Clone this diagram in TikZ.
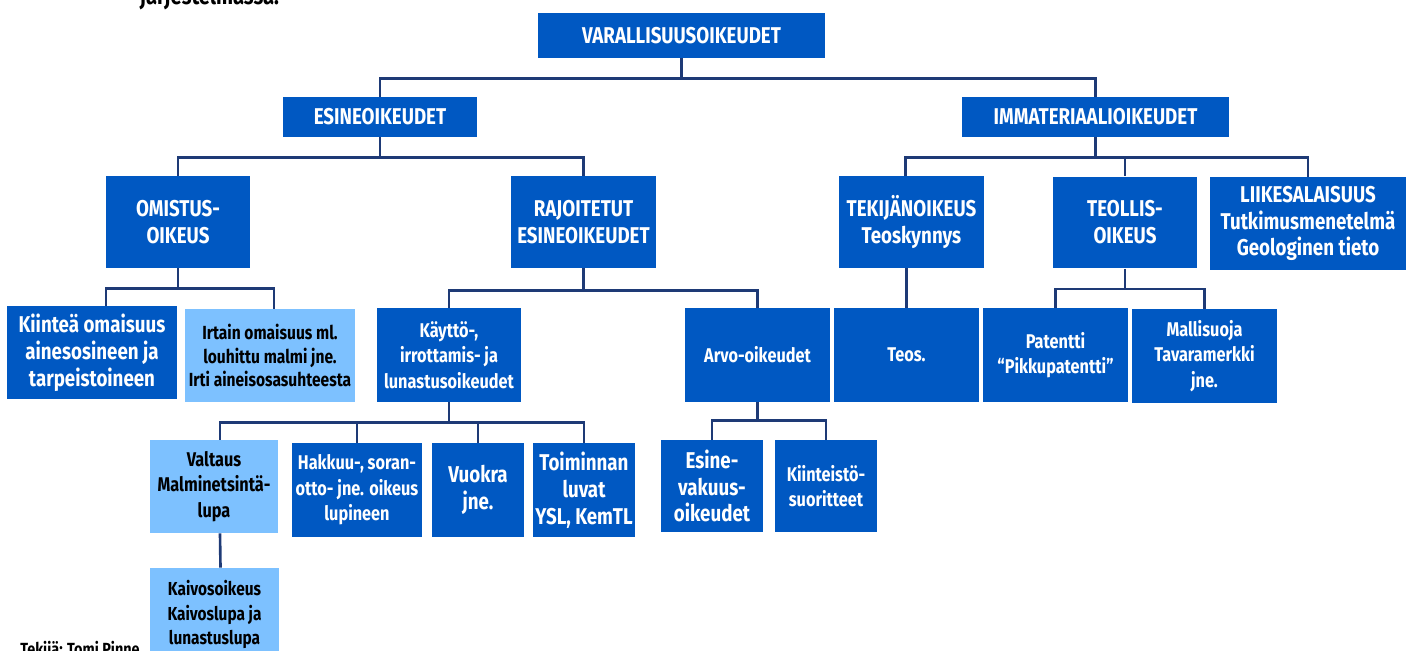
\documentclass[tikz,border=0pt]{standalone}
\usepackage{fontspec}
\setmainfont{Fira Sans}[FakeStretch=0.82]
\definecolor{boxblue}{RGB}{0,88,194}
\definecolor{boxlight}{RGB}{125,193,255}
\definecolor{linenavy}{RGB}{30,58,118}
\newcommand{\boxtext}{\fontsize{13}{15.3}\selectfont\bfseries}
\newcommand{\smallboxtext}{\fontsize{11.3}{14.6}\selectfont\bfseries}
\tikzset{
  box/.style={fill=boxblue, text=white, font=\boxtext, align=center, inner sep=1pt},
  lightbox/.style={box, fill=boxlight, text=black},
  smalltext/.style={font=\smallboxtext},
  link/.style={draw=linenavy, line width=1.5pt},
}
\begin{document}
\begin{tikzpicture}[x=0.02cm, y=-0.02cm]
    \useasboundingbox (0,0) rectangle (1413,650);
    % cut-off texts (top and bottom)
    \node[anchor=base west, inner sep=0pt, font=\fontsize{14}{16}\selectfont\bfseries] (top) at (140,4) {järjestelmässä.};
    \node[anchor=north west, inner sep=0pt, font=\fontsize{10}{12}\selectfont\bfseries] (author) at (20,641) {Tekijä: Tomi Pinne};

    % top levels
    \node[box, minimum width=5.74cm, minimum height=0.9cm] (root) at (681.5,35.5) {VARALLISUUSOIKEUDET};
    \node[box, minimum width=3.88cm, minimum height=0.8cm] (esine) at (380,117) {ESINEOIKEUDET};
    \node[box, minimum width=5.34cm, minimum height=0.8cm] (imm) at (1095.5,117) {IMMATERIAALIOIKEUDET};

    % esineoikeudet (left)
    \node[box, minimum width=2.88cm, minimum height=1.84cm] (omist) at (178,222) {OMISTUS-\\OIKEUS};
    \node[box, minimum width=2.9cm, minimum height=1.84cm] (rajoit) at (583.5,222) {RAJOITETUT\\ESINEOIKEUDET};
    \node[box, minimum width=3.4cm, minimum height=1.86cm] (kiint) at (92,352.5) {Kiinteä omaisuus\\ainesosineen ja\\tarpeistoineen};
    \node[lightbox, font=\fontsize{10.8}{13.6}\selectfont\bfseries, minimum width=3.4cm, minimum height=1.86cm] (irtain) at (270,355.5) {Irtain omaisuus ml.\\louhittu malmi jne.\\Irti aineisosasuhteesta};
    \node[box, smalltext, minimum width=2.88cm, minimum height=1.88cm] (kaytto) at (449,355) {Käyttö-,\\irrottamis- ja\\lunastusoikeudet};
    \node[box, smalltext, minimum width=2.9cm, minimum height=1.88cm] (arvo) at (757.5,355) {Arvo-oikeudet};
    \node[lightbox, smalltext, minimum width=2.56cm, minimum height=1.86cm] (valtaus) at (214,486.5) {Valtaus\\Malminetsintä-\\lupa};
    \node[box, smalltext, minimum width=2.6cm, minimum height=1.88cm] (hakkuu) at (357,490) {Hakkuu-, soran-\\otto- jne. oikeus\\lupineen};
    \node[box, minimum width=1.84cm, minimum height=1.88cm] (vuokra) at (478,490) {Vuokra\\jne.};
    \node[box, minimum width=2.04cm, minimum height=1.88cm] (toimi) at (584,490) {Toiminnan\\luvat\\YSL, KemTL};
    \node[box, minimum width=2.04cm, minimum height=1.84cm] (esinev) at (712,486) {Esine-\\vakuus-\\oikeudet};
    \node[box, smalltext, minimum width=2.04cm, minimum height=1.84cm] (kiinteisto) at (826,486) {Kiinteistö-\\suoritteet};
    \node[lightbox, font=\fontsize{10.7}{13.9}\selectfont\bfseries, minimum width=2.58cm, minimum height=1.86cm] (kaivos) at (214.5,614.5) {Kaivosoikeus\\Kaivoslupa ja\\lunastuslupa};

    % immateriaalioikeudet (right)
    \node[box, minimum width=2.9cm, minimum height=1.84cm] (tekij) at (911.5,222) {TEKIJÄNOIKEUS\\Teoskynnys};
    \node[box, minimum width=2.88cm, minimum height=1.84cm] (teoll) at (1125,222.5) {TEOLLIS-\\OIKEUS};
    \node[box, minimum width=3.92cm, minimum height=1.86cm] (liike) at (1308,223.5) {LIIKESALAISUUS\\Tutkimusmenetelmä\\Geologinen tieto};
    \node[box, smalltext, minimum width=2.9cm, minimum height=1.88cm] (teos) at (906.5,355) {Teos.};
    \node[box, smalltext, minimum width=2.9cm, minimum height=1.88cm] (patentti) at (1055.5,355) {Patentti\\“Pikkupatentti”};
    \node[box, smalltext, minimum width=2.9cm, minimum height=1.88cm] (malli) at (1204.5,356) {Mallisuoja\\Tavaramerkki\\jne.};

    % connectors
    \draw[link] (root.south) -- ++(0,20) -| (esine.north);
    \draw[link] (root.south) -- ++(0,20) -| (imm.north);
    \draw[link] (esine.south) -- ++(0,20) -| (omist.north);
    \draw[link] (esine.south) -- ++(0,20) -| (rajoit.north);
    \draw[link] (imm.south) -- ++(0,20) -| ([xshift=-0.12cm]tekij.north);
    \draw[link] (imm.south) -- ++(0,20) -| (teoll.north);
    \draw[link] (imm.south) -- ++(0,20) -| (liike.north);
    \draw[link] (omist.south) -- ++(0,20) -| ([xshift=0.28cm]kiint.north);
    \draw[link] (omist.south) -- ++(0,20) -| ([xshift=0.08cm]irtain.north);
    \draw[link] (rajoit.south) -- ++(0,22) -| (kaytto.north);
    \draw[link] (rajoit.south) -- ++(0,22) -| (arvo.north);
    \draw[link] (tekij.south -| teos.north) -- (teos.north);
    \draw[link] (teoll.south) -- ++(0,20) -| (patentti.north);
    \draw[link] (teoll.south) -- ++(0,20) -| (malli.north);
    \draw[link] (kaytto.south) -- ++(0,20) -| ([xshift=0.12cm]valtaus.north);
    \draw[link] (kaytto.south) -- ++(0,20) -| (hakkuu.north);
    \draw[link] (kaytto.south) -- ++(0,20) -| (vuokra.north);
    \draw[link] (kaytto.south) -- ++(0,20) -| (toimi.north);
    \draw[link] (arvo.south) -- ++(0,18) -| (esinev.north);
    \draw[link] (arvo.south) -- ++(0,18) -| (kiinteisto.north);
    \draw[link] ([xshift=0.12cm]valtaus.south) -- ([xshift=0.12cm]kaivos.north);
\end{tikzpicture}
\end{document}
